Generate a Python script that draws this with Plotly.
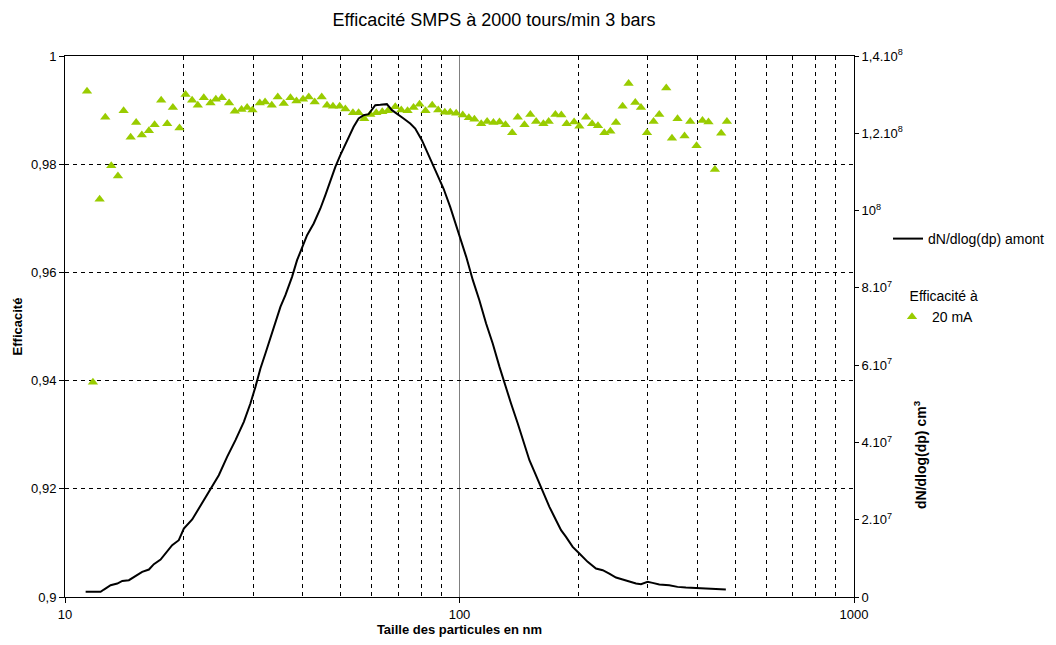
import plotly.graph_objects as go

# ---- Data ----
size_curve_nm = [11.28, 12.31, 12.55, 13.05, 13.57, 13.97, 14.52, 15.10, 15.69, 16.32,
                 16.80, 17.47, 18.15, 18.69, 19.43, 20.01, 21.01, 22.06, 23.38, 24.54,
                 25.76, 27.05, 28.40, 29.51, 30.39, 31.29, 32.21, 33.49, 34.48, 35.16,
                 36.20, 37.63, 38.75, 39.90, 41.08, 42.70, 44.40, 45.71, 47.06, 48.45,
                 49.88, 51.85, 53.91, 55.51, 57.15, 58.84, 59.98, 61.16, 62.98, 65.46,
                 67.40, 69.39, 72.15, 75.01, 77.23, 80.29, 84.28, 88.47, 91.09, 94.71,
                 98.45,
                 104.0, 108.1, 112.3, 116.8, 121.4, 126.3, 130.0, 135.1, 140.5, 146.1,
                 150.4, 154.9, 159.4, 164.1, 169.0, 175.7, 180.9, 186.2, 193.6, 201.3,
                 211.3, 221.8, 230.7, 239.7, 249.3, 259.2, 269.4, 280.2, 288.4, 299.8,
                 308.6, 320.9, 340.1, 357.0, 374.9, 401.3, 421.2, 446.4, 473.3]

dn_amont_millions = [1.33, 1.33, 1.93, 3.05, 3.49, 4.17, 4.35, 5.38, 6.50, 7.11,
                     8.49, 9.70, 11.68, 13.41, 14.70, 17.72, 20.05, 23.76, 28.07, 31.52,
                     36.27, 40.58, 45.32, 50.07, 54.38, 59.13, 63.01, 68.19, 72.50, 75.09,
                     78.11, 82.85, 87.16, 90.61, 93.63, 96.65, 100.54, 103.99, 107.87, 111.32,
                     114.34, 117.79, 121.67, 123.83, 124.69, 124.95, 125.98, 127.28, 127.36, 127.54,
                     125.98, 125.12, 123.83, 122.53, 121.24, 118.22, 113.48, 108.73, 105.71, 100.97,
                     95.79,
                     88.03, 81.99, 76.81, 70.77, 65.60, 59.56, 55.25, 50.07, 44.89, 39.72,
                     35.40, 32.38, 29.37, 26.78, 23.33, 19.88, 17.29, 15.56, 12.97, 11.25,
                     9.09, 7.37, 6.94, 6.07, 5.04, 4.52, 3.92, 3.49, 3.31, 3.92,
                     3.66, 3.23, 3.05, 2.62, 2.45, 2.28, 2.19, 2.19, 1.93]

size_eff_nm = [11.37, 11.77, 12.24, 12.65, 13.10, 13.62, 14.08, 14.67, 15.15, 15.66,
               16.32, 16.87, 17.53, 18.16, 18.77, 19.51, 20.21, 21.00, 21.71, 22.48,
               23.38, 24.12, 24.98, 26.06, 26.94, 28.02, 28.95, 29.87, 31.17, 32.15,
               33.43, 34.62, 35.85, 37.28, 38.61, 40.12, 41.48, 42.95, 44.74, 46.15,
               47.78, 49.69, 51.37, 53.69, 55.50, 57.37, 59.42, 61.53, 63.72, 65.84,
               68.74, 71.18, 73.85, 76.47, 79.19, 82.01, 85.28, 88.32, 91.78, 94.74,
               98.08, 101.9, 105.6, 109.1, 113.5, 117.5, 121.9, 126.3, 130.8, 136.0,
               140.5, 146.1, 151.2, 156.4, 163.2, 168.3, 175.0, 181.2, 186.9, 195.2,
               201.3, 209.4, 216.8, 224.4, 232.9, 241.2, 249.3, 259.1, 268.3, 279.0,
               288.4, 298.7, 310.4, 320.9, 334.3, 345.6, 357.0, 371.9, 384.5, 398.9,
               413.0, 427.7, 444.0, 460.6, 476.2]

efficacite_20mA = [0.9935, 0.9397, 0.9735, 0.9887, 0.9797, 0.9778, 0.9899, 0.9850, 0.9877, 0.9854,
                   0.9862, 0.9873, 0.9918, 0.9875, 0.9905, 0.9867, 0.9929, 0.9918, 0.9909, 0.9923,
                   0.9913, 0.9920, 0.9923, 0.9913, 0.9898, 0.9901, 0.9905, 0.9900, 0.9913, 0.9915,
                   0.9909, 0.9924, 0.9912, 0.9923, 0.9917, 0.9920, 0.9924, 0.9915, 0.9924, 0.9909,
                   0.9907, 0.9907, 0.9902, 0.9895, 0.9895, 0.9884, 0.9892, 0.9895, 0.9897, 0.9899,
                   0.9906, 0.9900, 0.9899, 0.9905, 0.9911, 0.9899, 0.9909, 0.9900, 0.9896, 0.9896,
                   0.9894, 0.9891, 0.9886, 0.9883, 0.9875, 0.9879, 0.9877, 0.9878, 0.9873, 0.9858,
                   0.9887, 0.9873, 0.9892, 0.9879, 0.9875, 0.9879, 0.9892, 0.9891, 0.9875, 0.9878,
                   0.9870, 0.9887, 0.9875, 0.9871, 0.9858, 0.9861, 0.9877, 0.9907, 0.9949, 0.9914,
                   0.9905, 0.9858, 0.9879, 0.9892, 0.9941, 0.9848, 0.9884, 0.9852, 0.9879, 0.9834,
                   0.9881, 0.9878, 0.9790, 0.9857, 0.9879]

x_tickvals = [10, 100, 1000]
x_ticktext = ["10", "100", "1000"]
x_minor_gridvals = [20, 30, 40, 50, 60, 70, 80, 90, 200, 300, 400, 500, 600, 700, 800, 900]
y1_tickvals = [0.9, 0.92, 0.94, 0.96, 0.98, 1.0]
y1_ticktext = ["0,9", "0,92", "0,94", "0,96", "0,98", "1"]
y2_tickvals = [0, 2e7, 4e7, 6e7, 8e7, 1e8, 1.2e8, 1.4e8]
y2_ticktext = ["0", "2.10<sup>7</sup>", "4.10<sup>7</sup>", "6.10<sup>7</sup>", "8.10<sup>7</sup>",
               "10<sup>8</sup>", "1,2.10<sup>8</sup>", "1,4.10<sup>8</sup>"]

FONT = "Liberation Sans, Arial, sans-serif"
GREEN = "#99CC00"

dn_amont = [v * 1e6 for v in dn_amont_millions]

# The page body has an 8px margin, so the figure is 16px smaller than the window
# and everything is placed 8px up/left of the window coordinates.
OFF = 8
FW, FH = 1056 - 2 * OFF, 645 - 2 * OFF
# plot area in window pixels
L, R, T, B = 65, 854, 56, 597
W, H = R - L, B - T

fig = go.Figure()
fig.add_trace(go.Scatter(
    x=size_eff_nm, y=efficacite_20mA, mode="markers", name="20 mA",
    marker=dict(symbol="triangle-up", size=9, color=GREEN, line=dict(width=0)),
    yaxis="y", legend="legend2",
))
fig.add_trace(go.Scatter(
    x=size_curve_nm, y=dn_amont, mode="lines", name="dN/dlog(dp) amont",
    line=dict(color="black", width=2), yaxis="y2", legend="legend",
))

fig.update_layout(
    width=FW, height=FH,
    paper_bgcolor="white", plot_bgcolor="white",
    margin=dict(l=L - OFF, r=FW - (R - OFF), t=T - OFF, b=FH - (B - OFF), autoexpand=False),
    font=dict(family=FONT, size=13, color="black"),
    title=dict(text="Efficacité SMPS à 2000 tours/min 3 bars",
               font=dict(family=FONT, size=18, color="black"),
               x=(494 - OFF) / FW, xref="container", xanchor="center",
               y=1 - (20 - OFF) / FH, yref="container", yanchor="middle"),
    xaxis=dict(
        type="log", range=[1, 3], automargin=False,
        tickvals=x_tickvals, ticktext=x_ticktext,
        ticks="outside", ticklen=5, tickcolor="black",
        showline=True, linecolor="black", linewidth=1, mirror=True,
        showgrid=True, gridcolor="#808080", gridwidth=1,
        minor=dict(tickmode="array", tickvals=x_minor_gridvals,
                   showgrid=True, gridcolor="black", griddash="4px,4px", gridwidth=1,
                   ticks=""),
        tickfont=dict(size=13),
        title=dict(text="<b>Taille des particules en nm</b>", font=dict(size=13), standoff=15),
        zeroline=False,
    ),
    yaxis=dict(
        range=[0.9, 1.0], automargin=False,
        tickvals=y1_tickvals, ticktext=y1_ticktext,
        ticks="outside", ticklen=5, tickcolor="black",
        showline=True, linecolor="black", linewidth=1,
        showgrid=True, gridcolor="black", griddash="4px,4px", gridwidth=1,
        tickfont=dict(size=13),
        title=dict(text="<b>Efficacité</b>", font=dict(size=13), standoff=5),
        zeroline=False,
    ),
    yaxis2=dict(
        overlaying="y", side="right", anchor="x", automargin=False,
        range=[0, 1.4e8],
        tickvals=y2_tickvals, ticktext=y2_ticktext,
        ticks="outside", ticklen=4, tickcolor="black",
        showline=True, linecolor="black", linewidth=1,
        showgrid=False, zeroline=False,
        tickfont=dict(size=13),
    ),
    legend=dict(
        x=(888 - L) / W, xanchor="left",
        y=(B - 239) / H, yanchor="middle",
        bgcolor="rgba(0,0,0,0)", borderwidth=0,
        font=dict(family=FONT, size=14, color="black"),
    ),
    legend2=dict(
        x=(892 - L) / W, xanchor="left",
        y=(B - 308) / H, yanchor="middle",
        bgcolor="rgba(0,0,0,0)", borderwidth=0,
        font=dict(family=FONT, size=14, color="black"),
        title=dict(text="\u00a0\u00a0\u00a0\u00a0Efficacité à",
                   font=dict(family=FONT, size=14, color="black")),
    ),
    showlegend=True,
    annotations=[dict(
        text="<b>dN/dlog(dp) cm<sup>3</sup></b>", textangle=-90,
        xref="paper", yref="paper", x=(920 - L) / W, y=(B - 455) / H,
        xanchor="center", yanchor="middle", showarrow=False,
        font=dict(family=FONT, size=14, color="black"),
    )],
)

fig.write_html("out.html")
